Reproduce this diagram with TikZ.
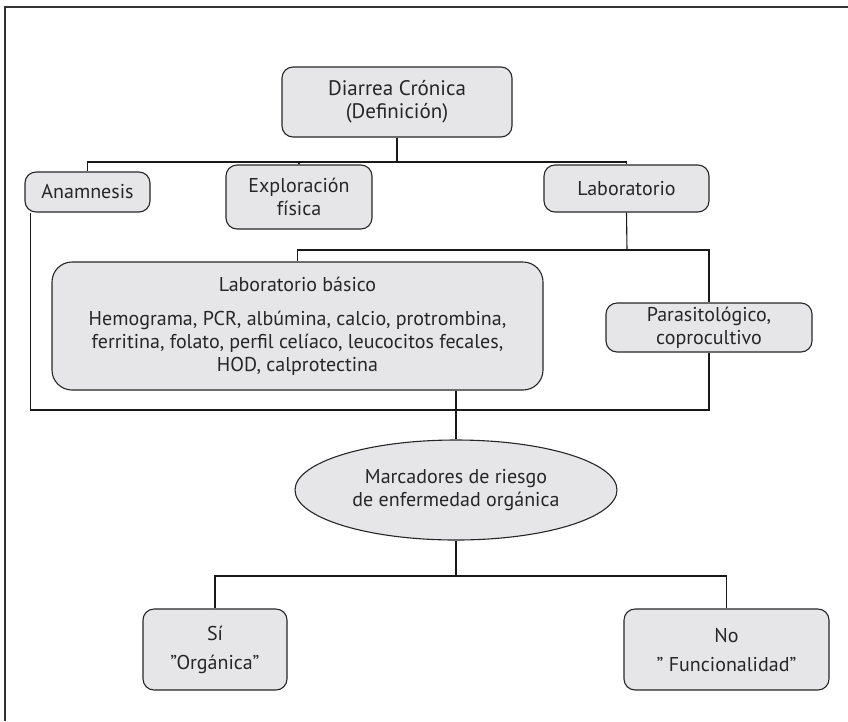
\documentclass[tikz,border=0pt]{standalone}
\usepackage{fontspec}
\setmainfont{PT Sans}
\usetikzlibrary{shapes.geometric}
\begin{document}
\begin{tikzpicture}[x=1pt,y=-1pt,
  line width=1.1pt,
  txt/.style={font=\fontsize{20}{23}\selectfont, text=black!85},
  box/.style={draw=black!85, fill=boxgray, rounded corners=11pt, align=center,
    inner sep=0pt, txt},
  link/.style={draw=black!90, line width=1.1pt}]
\definecolor{boxgray}{HTML}{E6E6E8}
\useasboundingbox (0,0) rectangle (848,721);
% outer frame (top and left edges)
\draw[black!80, line width=2pt] (5,721) -- (5,7) -- (848,7);

% boxes
\node[box, minimum width=230, minimum height=70, font=\fontsize{21}{23}\selectfont]
  (diar) at (397,102) {Diarrea Crónica\\(Definición)};
\node[box, minimum width=125, minimum height=40] (anam) at (87.5,192) {Anamnesis};
\node[box, minimum width=146, minimum height=64] (expl) at (299,197) {Exploración\\física};
\node[box, minimum width=165, minimum height=47] (lab) at (626.5,188.5) {Laboratorio};
\node[box, minimum width=491, minimum height=128, rounded corners=20pt] (lbas) at (297.5,326)
  {Laboratorio básico\\[11pt]Hemograma, PCR, albúmina, calcio, protrombina,\\
   ferritina, folato, perfil celíaco, leucocitos fecales,\\HOD, calprotectina};
\node[box, minimum width=206, minimum height=49] (para) at (709,327.5) {Parasitológico,\\coprocultivo};
\node[draw=black!85, fill=boxgray, ellipse, minimum width=322, minimum height=100,
  inner sep=0pt, align=center, txt]
  (marc) at (456,490) {Marcadores de riesgo\\de enfermedad orgánica};
\node[box, minimum width=144, minimum height=81] (si) at (215,649.5) {Sí\\[6pt]"Orgánica"};
\node[box, minimum width=205, minimum height=81] (no) at (726.5,649.5) {No\\[6pt]" Funcionalidad"};

% junction points
\coordinate (tj) at (397,162);
\coordinate (lj) at (627,250);
\coordinate (bj) at (456,410);
\coordinate (mj) at (456,576);

% connectors
\draw[link] (diar.south) -- (tj);
\draw[link] (anam.north) |- (tj) -| (lab.north);
\draw[link] (expl.north) -- (expl.north |- tj);
\draw[link] (lab.south) -- (lj);
\draw[link] (lbas.north) |- (lj) -| (para.north);
\draw[link] ([xshift=6]anam.south west) |- (bj) -| (para.south);
\draw[link] (marc.north |- lbas.south) -- (marc.north);
\draw[link] (marc.south) -- (mj);
\draw[link] (si.north) |- (mj) -| (no.north);
\end{tikzpicture}
\end{document}
